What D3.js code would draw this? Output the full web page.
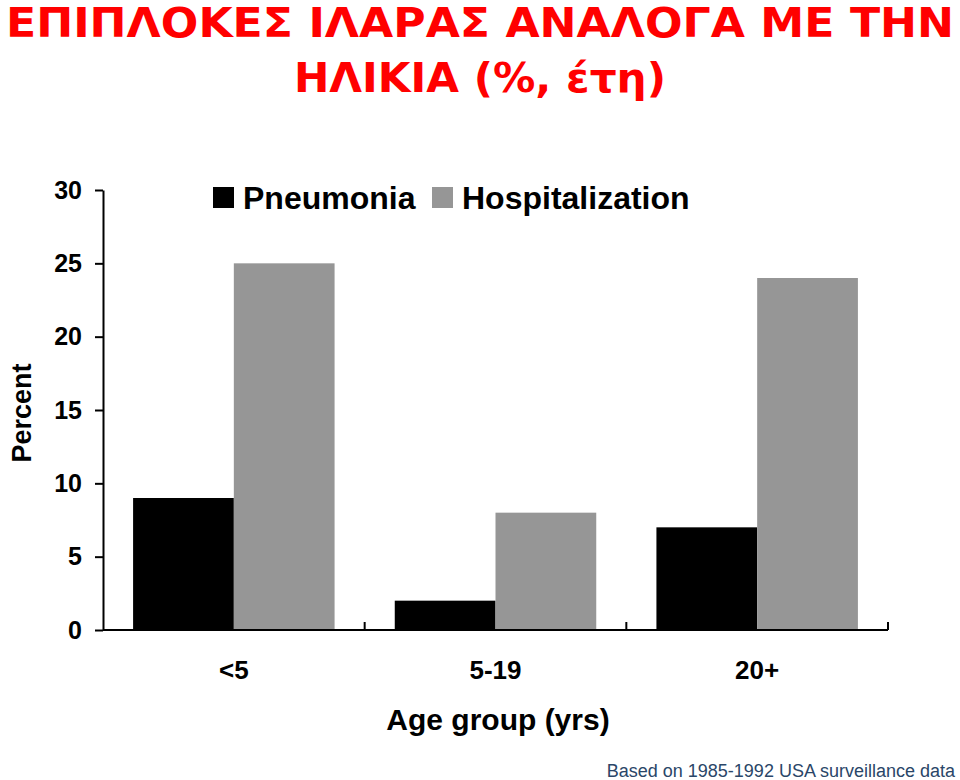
<!DOCTYPE html>
<html><head><meta charset="utf-8">
<script src="https://cdn.jsdelivr.net/npm/d3@7"></script>
<style>body{margin:0;background:#fff;} svg{display:block;}</style>
</head><body>
<svg id="c" width="960" height="780"></svg>
<script>
const categories = ["<5", "5-19", "20+"];
const seriesNames = ["Pneumonia", "Hospitalization"];
const pneumonia = [9, 2, 7];
const hospitalization = [25, 8, 24];
const yTicks = [0, 5, 10, 15, 20, 25, 30];
const colors = ["#000000", "#969696"];

const svg = d3.select("#c");
const x0 = 103, x1 = 888, yTop = 190, yBot = 630;
const FONT = "Liberation Sans, Arial, sans-serif";

const x = d3.scaleBand().domain(categories).range([x0, x1]).paddingInner(0.23).paddingOuter(0.115);
const xs = d3.scaleBand().domain(seriesNames).range([0, x.bandwidth()]);
const y = d3.scaleLinear().domain([0, 30]).range([yBot, yTop]);

const rows = categories.map((c, i) => ({cat: c, vals: [pneumonia[i], hospitalization[i]]}));

// bars
const g = svg.append("g");
rows.forEach(r => {
  r.vals.forEach((v, j) => {
    g.append("rect")
      .attr("x", x(r.cat) + xs(seriesNames[j]))
      .attr("y", y(v))
      .attr("width", xs.bandwidth())
      .attr("height", y(0) - y(v))
      .attr("fill", colors[j]);
  });
});

// y axis
const yAxis = d3.axisLeft(y).tickValues(yTicks).tickSize(8).tickSizeOuter(0).tickPadding(13);
const ya = svg.append("g").attr("transform", `translate(${x0},0)`).call(yAxis);
ya.select(".domain").attr("stroke", "#000").attr("stroke-width", 2);
ya.selectAll(".tick line").attr("stroke", "#000").attr("stroke-width", 2);
ya.selectAll(".tick text").attr("font-family", FONT)
  .attr("font-weight", "bold").attr("font-size", 25).attr("fill", "#000");

// x axis baseline with category boundary ticks
const xa = svg.append("g");
xa.append("line").attr("x1", x0).attr("x2", x1).attr("y1", yBot).attr("y2", yBot)
  .attr("stroke", "#000").attr("stroke-width", 2);
const step = x.step();
categories.forEach((c, i) => {
  const bx = x(c) + x.bandwidth() + x.paddingInner() * step / 2;
  xa.append("line").attr("x1", bx).attr("x2", bx).attr("y1", yBot).attr("y2", yBot - 8)
    .attr("stroke", "#000").attr("stroke-width", 2);
  xa.append("text").attr("x", x(c) + x.bandwidth() / 2).attr("y", 679)
    .attr("text-anchor", "middle").attr("font-family", FONT)
    .attr("font-weight", "bold").attr("font-size", 26).text(c);
});

// axis titles
svg.append("text").attr("x", 498).attr("y", 730).attr("text-anchor", "middle")
  .attr("font-family", FONT).attr("font-weight", "bold")
  .attr("font-size", 30).text("Age group (yrs)");
svg.append("text").attr("transform", "translate(31,413) rotate(-90)").attr("text-anchor", "middle")
  .attr("font-family", FONT).attr("font-weight", "bold")
  .attr("font-size", 27).text("Percent");

// legend
const legendX = [213, 432];
seriesNames.forEach((s, j) => {
  svg.append("rect").attr("x", legendX[j]).attr("y", 187).attr("width", 21).attr("height", 21).attr("fill", colors[j]);
  svg.append("text").attr("x", legendX[j] + 30).attr("y", 209)
    .attr("font-family", FONT).attr("font-weight", "bold")
    .attr("font-size", 32).text(s);
});

// title
const titleStyle = t => t.attr("text-anchor", "middle").attr("fill", "#ff0000")
  .attr("font-family", "DejaVu Sans, sans-serif").attr("font-weight", "bold").attr("font-size", 40);
svg.append("text").attr("x", 480).attr("y", 37).call(titleStyle)
  .attr("textLength", 948).attr("lengthAdjust", "spacingAndGlyphs").text("ΕΠΙΠΛΟΚΕΣ ΙΛΑΡΑΣ ΑΝΑΛΟΓΑ ΜΕ ΤΗΝ");
svg.append("text").attr("x", 480).attr("y", 92).call(titleStyle)
  .attr("textLength", 372).attr("lengthAdjust", "spacingAndGlyphs").text("ΗΛΙΚΙΑ (%, έτη)");

// footnote
svg.append("text").attr("x", 955).attr("y", 777).attr("text-anchor", "end")
  .attr("font-family", FONT).attr("font-size", 18)
  .attr("fill", "#2a4668").text("Based on 1985-1992 USA surveillance data");
</script>
</body></html>
